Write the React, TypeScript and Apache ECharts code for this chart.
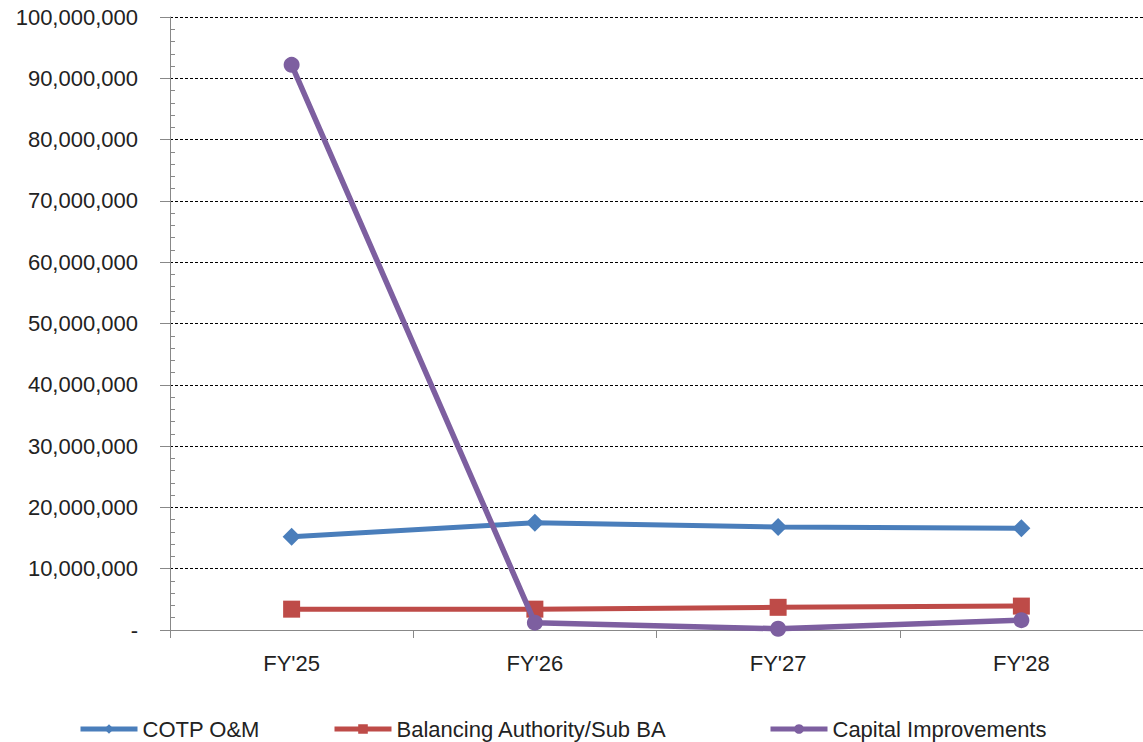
import React, { useEffect, useRef } from "react";
import * as echarts from "echarts";

const categories = ["FY'25", "FY'26", "FY'27", "FY'28"];
const cotpOM = [15200000, 17500000, 16800000, 16600000];
const balancingBA = [3400000, 3400000, 3700000, 3900000];
const capitalImprovements = [92200000, 1200000, 200000, 1600000];
const seriesNames = ["COTP O&M", "Balancing Authority/Sub BA", "Capital Improvements"];

const fmt = (v: number) => (v === 0 ? "-" : v.toLocaleString("en-US"));

export default function App() {
  const ref = useRef<HTMLDivElement>(null);
  useEffect(() => {
    if (!ref.current) return;
    const chart = echarts.init(ref.current, null, { renderer: "svg" });
    const font = "'Liberation Sans', Arial, sans-serif";
    const legendBase = {
      top: 718,
      padding: 0,
      itemWidth: 57,
      itemHeight: 12,
      itemGap: 4,
      lineStyle: { width: 5 },
      textStyle: { fontFamily: font, fontSize: 22, lineHeight: 22, color: "#222" },
    };
    chart.setOption({
      animation: false,
      backgroundColor: "#fff",
      grid: { left: 170, right: 0, top: 17, bottom: 112 },
      legend: [
        { ...legendBase, left: 78, data: [seriesNames[0]] },
        { ...legendBase, left: 332, data: [seriesNames[1]] },
        { ...legendBase, left: 768, data: [seriesNames[2]] },
      ],
      xAxis: {
        type: "category",
        data: categories,
        boundaryGap: true,
        axisLine: { lineStyle: { color: "#888", width: 1 } },
        axisTick: { show: true, length: 8, lineStyle: { color: "#888" } },
        axisLabel: { fontFamily: font, fontSize: 22, color: "#222", margin: 22 },
      },
      yAxis: {
        type: "value",
        min: 0,
        max: 100000000,
        interval: 10000000,
        axisLine: { show: true, lineStyle: { color: "#888", width: 1 } },
        axisTick: { show: true, length: 10, lineStyle: { color: "#888" } },
        minorTick: { show: true, splitNumber: 5, length: -5, lineStyle: { color: "#888" } },
        splitLine: { show: true, lineStyle: { color: "#000", type: [3, 2], width: 1 } },
        axisLabel: { fontFamily: font, fontSize: 22, color: "#222", margin: 32, formatter: fmt },
      },
      series: [
        {
          name: seriesNames[0],
          type: "line",
          data: cotpOM,
          symbol: "diamond",
          symbolSize: 18,
          lineStyle: { color: "#4a7ebb", width: 5 },
          itemStyle: { color: "#4a7ebb" },
          z: 3,
        },
        {
          name: seriesNames[1],
          type: "line",
          data: balancingBA,
          symbol: "rect",
          symbolSize: 17,
          lineStyle: { color: "#be4b48", width: 5 },
          itemStyle: { color: "#be4b48" },
          z: 2,
        },
        {
          name: seriesNames[2],
          type: "line",
          data: capitalImprovements,
          symbol: "circle",
          symbolSize: 16,
          lineStyle: { color: "#7d5fa0", width: 5.5 },
          itemStyle: { color: "#7d5fa0" },
          z: 4,
        },
      ],
    });
    return () => chart.dispose();
  }, []);
  return (
    <div
      ref={ref}
      style={{ position: "fixed", left: 0, top: 0, width: 1143, height: 742, background: "#fff" }}
    />
  );
}
